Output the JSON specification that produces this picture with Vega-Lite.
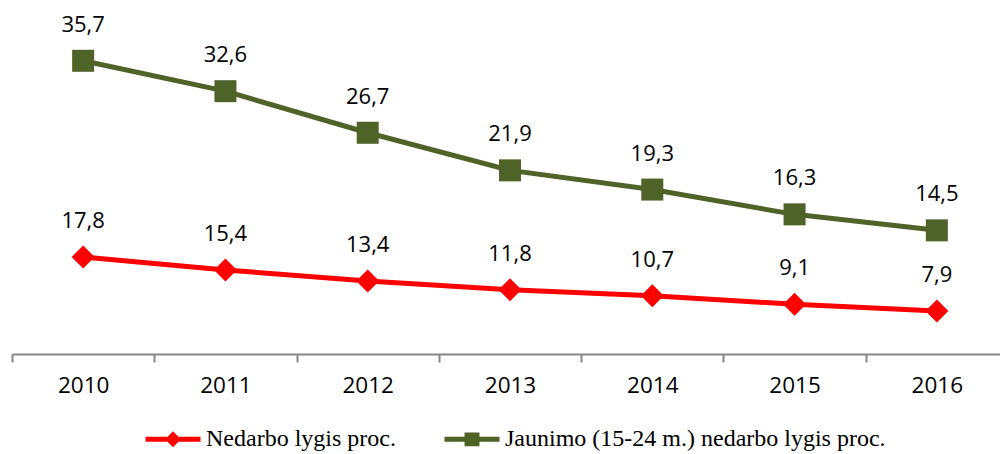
{
  "$schema": "https://vega.github.io/schema/vega-lite/v6.json",
  "autosize": "none",
  "width": 988,
  "height": 354,
  "padding": {"left": 12, "top": 0, "right": 0, "bottom": 100},
  "background": "white",
  "config": {"view": {"stroke": null}, "font": "Open Sans"},
  "data": {"values": [
    {"year": "2010", "series": "Nedarbo lygis proc.", "value": 17.8, "label": "17,8"},
    {"year": "2011", "series": "Nedarbo lygis proc.", "value": 15.4, "label": "15,4"},
    {"year": "2012", "series": "Nedarbo lygis proc.", "value": 13.4, "label": "13,4"},
    {"year": "2013", "series": "Nedarbo lygis proc.", "value": 11.8, "label": "11,8"},
    {"year": "2014", "series": "Nedarbo lygis proc.", "value": 10.7, "label": "10,7"},
    {"year": "2015", "series": "Nedarbo lygis proc.", "value": 9.1, "label": "9,1"},
    {"year": "2016", "series": "Nedarbo lygis proc.", "value": 7.9, "label": "7,9"},
    {"year": "2010", "series": "Jaunimo (15-24 m.) nedarbo lygis proc.", "value": 35.7, "label": "35,7"},
    {"year": "2011", "series": "Jaunimo (15-24 m.) nedarbo lygis proc.", "value": 31.9, "label": "32,6"},
    {"year": "2012", "series": "Jaunimo (15-24 m.) nedarbo lygis proc.", "value": 26.7, "label": "26,7"},
    {"year": "2013", "series": "Jaunimo (15-24 m.) nedarbo lygis proc.", "value": 22.0, "label": "21,9"},
    {"year": "2014", "series": "Jaunimo (15-24 m.) nedarbo lygis proc.", "value": 19.6, "label": "19,3"},
    {"year": "2015", "series": "Jaunimo (15-24 m.) nedarbo lygis proc.", "value": 16.5, "label": "16,3"},
    {"year": "2016", "series": "Jaunimo (15-24 m.) nedarbo lygis proc.", "value": 14.5, "label": "14,5"}
  ]},
  "encoding": {
    "x": {
      "field": "year", "type": "ordinal",
      "scale": {"type": "band", "range": [0, 996], "paddingInner": 0, "paddingOuter": 0},
      "axis": {
        "title": null, "labelAngle": 0, "domainColor": "#868686", "domainWidth": 2,
        "tickColor": "#868686", "tickWidth": 2, "tickSize": 8, "tickBand": "extent",
        "labelFontSize": 22.5, "labelFont": "Open Sans", "labelColor": "#000000", "labelPadding": 12
      }
    },
    "color": {
      "field": "series", "type": "nominal",
      "scale": {"domain": ["Nedarbo lygis proc.", "Jaunimo (15-24 m.) nedarbo lygis proc."], "range": ["#FF0000", "#4F6228"]},
      "legend": {
        "title": null, "orient": "none", "direction": "horizontal",
        "legendX": 131, "legendY": 409,
        "labelFont": "Liberation Serif", "labelFontSize": 24, "labelColor": "#000000", "labelLimit": 0,
        "labelOffset": 3, "columnPadding": 38, "symbolSize": 3025,
        "symbolStrokeWidth": 5, "symbolOpacity": 1,
        "encode": {"symbols": {"update": {
          "shape": {"signal": "datum.value === 'Nedarbo lygis proc.' ? 'M-1,0H1M-0.16,0L0,-0.16L0.16,0L0,0.16Z' : 'M-1,0H1M-0.18,-0.16L0.18,-0.16L0.18,0.16L-0.18,0.16Z'"},
          "fill": {"signal": "datum.value === 'Nedarbo lygis proc.' ? '#FF0000' : '#4F6228'"},
          "stroke": {"signal": "datum.value === 'Nedarbo lygis proc.' ? '#FF0000' : '#4F6228'"},
          "strokeWidth": {"value": 5},
          "opacity": {"value": 1},
          "fillOpacity": {"value": 1},
          "strokeOpacity": {"value": 1}
        }}}
      }
    }
  },
  "resolve": {"scale": {"y": "independent"}},
  "layer": [
    {
      "transform": [{"filter": "datum.series === 'Nedarbo lygis proc.'"}],
      "encoding": {
        "y": {"field": "value", "type": "quantitative", "scale": {"domain": [0, 64.9], "nice": false, "zero": false}, "axis": null}
      },
      "layer": [
        {"mark": {"type": "line", "strokeWidth": 5, "strokeJoin": "round"}},
        {"mark": {"type": "point", "shape": "diamond", "size": 529, "filled": true, "opacity": 1}},
        {"mark": {"type": "text", "dy": -36, "fontSize": 22, "font": "Open Sans", "color": "#000000", "baseline": "middle"},
         "encoding": {"text": {"field": "label"}, "color": {"value": "#000000"}}}
      ]
    },
    {
      "transform": [{"filter": "datum.series !== 'Nedarbo lygis proc.'"}],
      "encoding": {
        "y": {"field": "value", "type": "quantitative", "scale": {"domain": [-0.96, 43.3], "nice": false, "zero": false}, "axis": null}
      },
      "layer": [
        {"mark": {"type": "line", "strokeWidth": 5, "strokeJoin": "round"}},
        {"mark": {"type": "square", "size": 484, "filled": true, "opacity": 1, "cornerRadius": 3}},
        {"mark": {"type": "text", "dy": -36, "fontSize": 22, "font": "Open Sans", "color": "#000000", "baseline": "middle"},
         "encoding": {"text": {"field": "label"}, "color": {"value": "#000000"}}}
      ]
    }
  ]
}
